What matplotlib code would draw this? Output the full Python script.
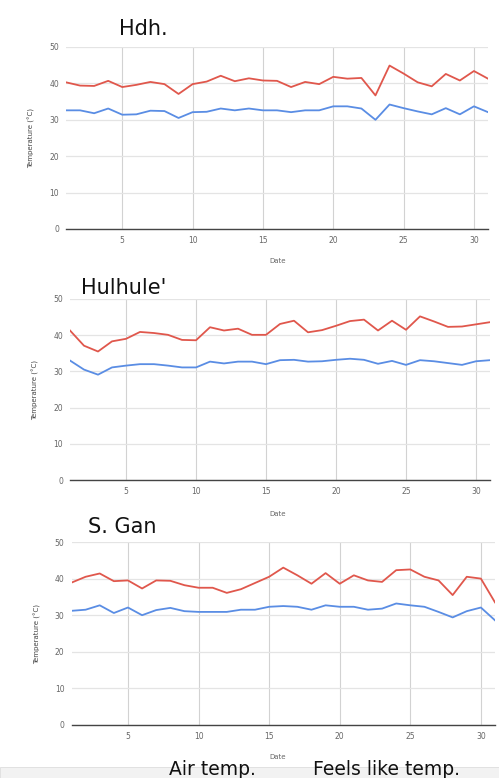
import matplotlib.pyplot as plt
from matplotlib.patches import Rectangle

days = list(range(1, 32))

# Hdh.
hdh_air = [32.6, 32.6, 31.8, 33.1, 31.4, 31.5, 32.5, 32.4, 30.5, 32.1,
           32.2, 33.1, 32.6, 33.1, 32.6, 32.6, 32.1, 32.6, 32.6, 33.7,
           33.7, 33.1, 30.0, 34.2, 33.2, 32.3, 31.5, 33.2, 31.5, 33.7, 32.1]
hdh_feels = [40.3, 39.4, 39.3, 40.7, 39.0, 39.6, 40.4, 39.8, 37.1, 39.8,
             40.5, 42.1, 40.6, 41.4, 40.8, 40.7, 39.0, 40.4, 39.8, 41.8,
             41.3, 41.5, 36.7, 44.9, 42.7, 40.3, 39.2, 42.6, 40.8, 43.4, 41.3]

# Hulhule'
hul_air = [33.0, 30.5, 29.1, 31.1, 31.6, 32.0, 32.0, 31.6, 31.1, 31.1,
           32.7, 32.2, 32.7, 32.7, 32.0, 33.1, 33.2, 32.7, 32.8, 33.2,
           33.5, 33.2, 32.1, 32.9, 31.8, 33.1, 32.8, 32.3, 31.8, 32.8, 33.1]
hul_feels = [41.3, 37.1, 35.5, 38.3, 39.0, 40.9, 40.6, 40.1, 38.7, 38.6,
             42.2, 41.3, 41.8, 40.1, 40.1, 43.1, 44.0, 40.8, 41.4, 42.6,
             43.9, 44.3, 41.3, 44.0, 41.5, 45.2, 43.8, 42.3, 42.4, 43.0, 43.6]

# S. Gan
gan_air = [31.2, 31.5, 32.7, 30.6, 32.1, 30.0, 31.4, 32.0, 31.1, 30.9,
           30.9, 30.9, 31.5, 31.5, 32.3, 32.5, 32.3, 31.5, 32.7, 32.3,
           32.3, 31.5, 31.8, 33.2, 32.7, 32.3, 30.9, 29.4, 31.1, 32.1, 28.6]
gan_feels = [38.9, 40.5, 41.4, 39.3, 39.5, 37.3, 39.5, 39.4, 38.2, 37.5,
             37.5, 36.1, 37.1, 38.8, 40.5, 43.0, 40.9, 38.6, 41.5, 38.6,
             40.9, 39.5, 39.1, 42.3, 42.5, 40.5, 39.5, 35.5, 40.5, 40.0, 33.5]

titles = ['Hdh.', "Hulhule'", 'S. Gan']
legend_labels = ['Air temp.', 'Feels like temp.']

W, H = 499, 778
RED = '#e0574c'
BLUE = '#5a8de4'


def px_rect(x0, x1, ytop, ybot):
    return [x0 / W, 1 - ybot / H, (x1 - x0) / W, (ybot - ytop) / H]


fig = plt.figure(figsize=(W / 100, H / 100), dpi=100)

# rect, title centre, xlabel y (pixels)
layout = [
    (px_rect(66, 488, 47, 229), (143, 29), 261),
    (px_rect(70, 490, 299, 480), (124, 288), 514),
    (px_rect(71.5, 495, 542, 725), (122, 527), 757),
]
series = [(hdh_air, hdh_feels), (hul_air, hul_feels), (gan_air, gan_feels)]

for (rect, tpos, xl_y), (air, feels), title in zip(layout, series, titles):
    ax = fig.add_axes(rect)
    ax.plot(days, feels, color=RED, lw=1.3, zorder=3)
    ax.plot(days, air, color=BLUE, lw=1.3, zorder=3)
    ax.set_xlim(1, 31)
    ax.set_ylim(0, 50)
    ax.set_yticks(range(0, 51, 10))
    ax.set_xticks(range(5, 31, 5))
    ax.grid(axis='y', color='#e4e4e4', lw=0.9)
    ax.grid(axis='x', color='#d2d2d2', lw=0.8)
    for s in ['top', 'right', 'left']:
        ax.spines[s].set_visible(False)
    ax.spines['bottom'].set_color('#444444')
    ax.spines['bottom'].set_linewidth(1.0)
    ax.tick_params(length=0, labelsize=5.5, labelcolor='#666666', pad=5)
    ax.set_ylabel('Temperature (°C)', fontsize=5, color='#444444', labelpad=10)
    fig.text(tpos[0] / W, 1 - tpos[1] / H, title, fontsize=15,
             ha='center', va='center', color='#111111')
    fig.text(278 / W, 1 - xl_y / H, 'Date', fontsize=5, ha='center',
             va='center', color='#666666')

# grey strip at the bottom edge
fig.add_artist(Rectangle((0, 0), 1, 11 / H, transform=fig.transFigure,
                         facecolor='#f2f2f2', edgecolor='#dddddd', lw=0.6,
                         zorder=0))

fig.text(169 / W, 1 - 775 / H, legend_labels[0], fontsize=13.5,
         ha='left', va='baseline', color='#111111')
fig.text(313 / W, 1 - 775 / H, legend_labels[1], fontsize=13.5,
         ha='left', va='baseline', color='#111111')

fig.savefig('out.png', dpi=100)
